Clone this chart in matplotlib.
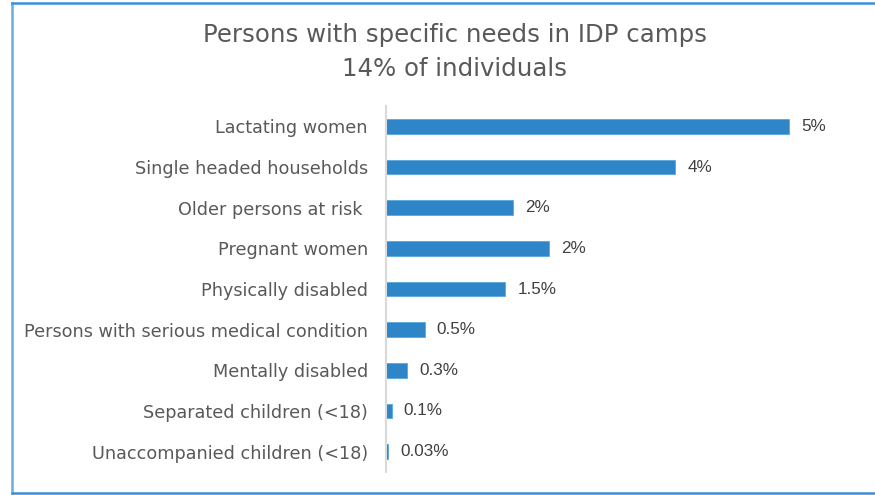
import matplotlib
matplotlib.use("Agg")
import matplotlib.pyplot as plt

categories = [
    "Lactating women",
    "Single headed households",
    "Older persons at risk ",
    "Pregnant women",
    "Physically disabled",
    "Persons with serious medical condition",
    "Mentally disabled",
    "Separated children (<18)",
    "Unaccompanied children (<18)",
]
values = [5.0, 3.59, 1.58, 2.02, 1.48, 0.48, 0.26, 0.07, 0.03]
value_labels = ["5%", "4%", "2%", "2%", "1.5%", "0.5%", "0.3%", "0.1%", "0.03%"]
title_lines = ["Persons with specific needs in IDP camps", "14% of individuals"]

W, H, DPI = 875, 495, 100
fig = plt.figure(figsize=(W / DPI, H / DPI), dpi=DPI)
fig.patch.set_facecolor("white")

ax_l, ax_r = 386 / W, 860 / W
ax_b, ax_t = 1 - 472 / H, 1 - 106 / H
ax = fig.add_axes([ax_l, ax_b, ax_r - ax_l, ax_t - ax_b])

px_per_unit = (789 - 386) / 5.0
xmax = (860 - 386) / px_per_unit

y = list(range(len(categories)))
ax.barh(y, values, height=0.36, color="#2E86C8", edgecolor="#5BA7DD", linewidth=0.6)
ax.set_ylim(len(categories) - 0.5, -0.5)
ax.set_xlim(0, xmax)

for yi, v, lab in zip(y, values, value_labels):
    ax.annotate(lab, (v, yi), xytext=(12, 0), textcoords="offset pixels",
                va="center", ha="left", fontsize=12.3, color="#404040",
                family="Liberation Sans")

ax.set_yticks(y)
ax.set_yticklabels(categories, fontsize=12.7, color="#595959", family="DejaVu Sans")
ax.tick_params(axis="y", length=0, pad=13)
ax.set_xticks([])
for s in ["top", "right", "bottom"]:
    ax.spines[s].set_visible(False)
ax.spines["left"].set_color("#D9D9D9")
ax.spines["left"].set_linewidth(1.5)

cx = 0.5 * (203 + 706) / W
fig.text(cx, 1 - 35 / H, title_lines[0], ha="center", va="center",
         fontsize=17.6, color="#595959", family="DejaVu Sans")
fig.text(cx, 1 - 69 / H, title_lines[1], ha="center", va="center",
         fontsize=17.6, color="#595959", family="DejaVu Sans")

# frame
fig.add_artist(plt.Line2D([12 / W, 12 / W], [1 - 2.5 / H, 1 - 493 / H], transform=fig.transFigure,
                          color="#6AAEE0", linewidth=1.8))
fig.add_artist(plt.Line2D([12 / W, 1], [1 - 2.5 / H, 1 - 2.5 / H], transform=fig.transFigure,
                          color="#3A8FD6", linewidth=1.8))
fig.add_artist(plt.Line2D([12 / W, 1], [1 - 493 / H, 1 - 493 / H], transform=fig.transFigure,
                          color="#3A8FD6", linewidth=1.8))

fig.savefig("out.png", dpi=DPI)
